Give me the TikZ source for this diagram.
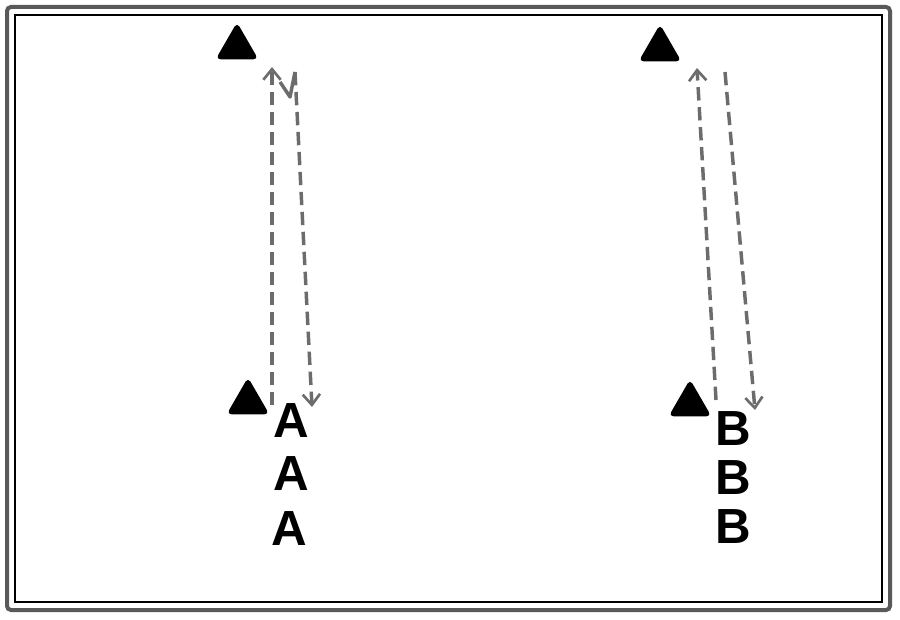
\documentclass[tikz,border=0pt]{standalone}
\usepackage{fontspec}
\setmainfont{Liberation Sans}
\usetikzlibrary{shapes.geometric,arrows.meta}
\begin{document}
\begin{tikzpicture}[x=0.75pt,y=-0.75pt,
  cone/.style={regular polygon,regular polygon sides=3,fill=black,draw=black,
    line width=1.5pt,rounded corners=2.5pt,minimum size=34pt,inner sep=0pt},
  player/.style={font=\fontsize{37}{37}\selectfont\bfseries,inner sep=0pt},
  run/.style={draw=gray!85!black,line width=2.6pt,dash pattern=on 10pt off 5pt,
    -{Straight Barb[length=8pt,width=13pt,line width=2pt]}},
  hook/.style={draw=gray!85!black,line width=2.6pt,line join=round}]
\useasboundingbox (0,0) rectangle (900,620);
% frame
\draw[gray!70!black,line width=3pt,rounded corners=3pt] (7,7) rectangle (890,610);
\draw[black,line width=1pt] (15,15) rectangle (882,602);
% left drill
\node[cone] (lt) at (237,47) {};
\node[cone] (lb) at (248,402) {};
\node[player] (a1) at (291,421) {A};
\node[player] (a2) at (291,474) {A};
\node[player] (a3) at (289,529) {A};
\coordinate (lus) at (272,405);
\coordinate (lue) at (272,67);
\coordinate (lh1) at (280,82);
\coordinate (lh2) at (290,97);
\coordinate (lds) at (295,72);
\coordinate (lde) at (312,407);
\draw[run] (lus) -- (lue);
\draw[hook] (lh1) -- (lh2) -- (lds);
\draw[run] (lds) -- (lde);
% right drill
\node[cone] (rt) at (660,49) {};
\node[cone] (rb) at (690,404) {};
\node[player] (b1) at (733,429) {B};
\node[player] (b2) at (733,478) {B};
\node[player] (b3) at (733,527) {B};
\coordinate (rus) at (716,400);
\coordinate (rue) at (697,68);
\coordinate (rds) at (725,72);
\coordinate (rde) at (755,410);
\draw[run] (rus) -- (rue);
\draw[run] (rds) -- (rde);
\end{tikzpicture}
\end{document}
